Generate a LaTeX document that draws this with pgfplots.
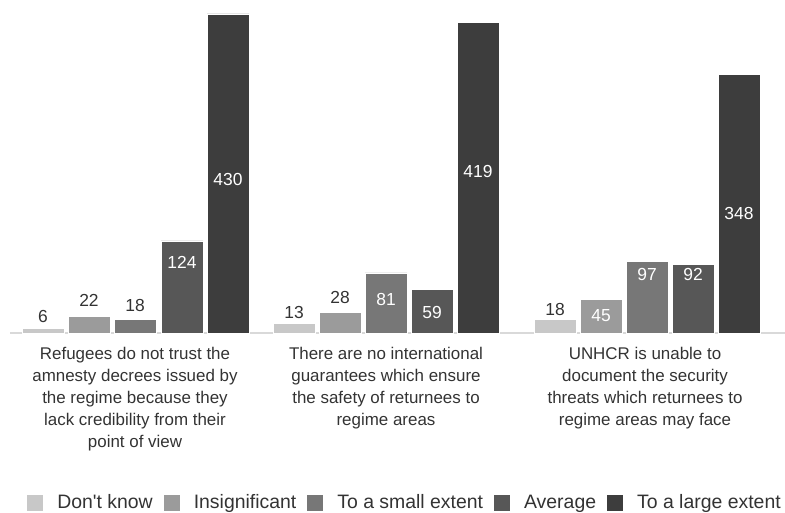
\documentclass[border=0pt]{standalone}
\usepackage{fontspec}
\setmainfont{Liberation Sans}
\usepackage{pgfplots}
\pgfplotsset{compat=1.18}
\definecolor{cdk}{HTML}{C8C8C8}
\definecolor{cins}{HTML}{9B9B9B}
\definecolor{csmall}{HTML}{777777}
\definecolor{cavg}{HTML}{575757}
\definecolor{clarge}{HTML}{3D3D3D}
\definecolor{ctxt}{HTML}{333333}
\begin{document}
\fontsize{17pt}{22pt}\selectfont
\begin{tikzpicture}[x=1bp,y=1bp]
\path[use as bounding box] (0,-180) rectangle (785,333);
\begin{axis}[
    at={(10bp,0)}, anchor=south west,
    scale only axis,
    width=775bp, height=333bp,
    xmin=10, xmax=785,
    ymin=0, ymax=448.8,
    axis x line*=bottom,
    axis y line=none,
    axis line style={draw=black!15, line width=1.2pt},
    xtick=\empty, ytick=\empty,
    ybar, bar shift=0pt, bar width=42,
    every axis plot/.append style={draw=white, line width=0.6pt},
    clip=false,
    legend columns=5,
    legend style={at={(0.5097,-0.51)}, anchor=center, draw=none,
        font=\fontsize{19.5pt}{21pt}\selectfont, text=ctxt,
        /tikz/every even column/.append style={column sep=9bp},
        /tikz/every odd column/.append style={column sep=12bp}},
    legend image code/.code={\fill[#1, draw=none] (0bp,-8bp) rectangle (16bp,8bp);},
]
\addplot[fill=cdk] coordinates {(43,6) (294,13) (555,18)};
\addplot[fill=cins] coordinates {(89,22) (340,28) (601,45)};
\addplot[fill=csmall] coordinates {(135,18) (386,81) (647,97)};
\addplot[fill=cavg] coordinates {(182,124) (432,59) (693,92)};
\addplot[fill=clarge] coordinates {(228,430) (478,419) (739,348)};
\legend{Don\textquotesingle t know, Insignificant, To a small extent, Average, To a large extent}

% value labels
\begin{scope}[every node/.style={font=\fontsize{17.5pt}{19pt}\selectfont}]
\node[text=ctxt] at (axis cs:43,22.9) {6};
\node[text=ctxt] at (axis cs:89,44.5) {22};
\node[text=ctxt] at (axis cs:135,37.7) {18};
\node[text=white] at (axis cs:182,95.7) {124};
\node[text=white] at (axis cs:228,207.5) {430};
\node[text=ctxt] at (axis cs:294,28.3) {13};
\node[text=ctxt] at (axis cs:340,47.2) {28};
\node[text=white] at (axis cs:386,44.5) {81};
\node[text=white] at (axis cs:432,28.3) {59};
\node[text=white] at (axis cs:478,218.3) {419};
\node[text=ctxt] at (axis cs:555,32.3) {18};
\node[text=white] at (axis cs:601,22.9) {45};
\node[text=white] at (axis cs:647,78.2) {97};
\node[text=white] at (axis cs:693,78.2) {92};
\node[text=white] at (axis cs:739,161.7) {348};
\end{scope}

% category labels
\begin{scope}[every node/.style={anchor=north, align=center, text=ctxt,
    font=\fontsize{17pt}{22pt}\selectfont, inner sep=0pt, yshift=-14bp}]
\node at (axis cs:135,0) {Refugees do not trust the\\amnesty decrees issued by\\the regime because they\\lack credibility from their\\point of view};
\node at (axis cs:386,0) {There are no international\\guarantees which ensure\\the safety of returnees to\\regime areas};
\node at (axis cs:645,0) {UNHCR is unable to\\document the security\\threats which returnees to\\regime areas may face};
\end{scope}
\end{axis}
\end{tikzpicture}
\end{document}
